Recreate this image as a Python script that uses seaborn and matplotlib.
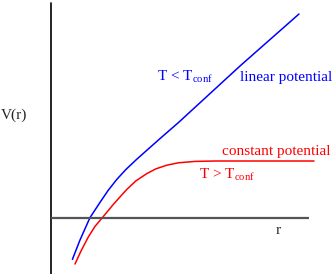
import matplotlib
matplotlib.use("Agg")
import numpy as np
import pandas as pd
import matplotlib.pyplot as plt
import seaborn as sns

# potentiel V(r) en dessous / au dessus de T_conf
r_linear = [1.07, 1.45, 1.95, 2.45, 2.85, 3.29, 3.75, 4.29, 5.45, 6.37, 9.45, 12.4]
v_linear = [-2.07, -1.1, 0.02, 0.78, 1.37, 1.93, 2.43, 2.94, 3.97, 4.77, 7.6, 10.2]

r_const = [1.2, 1.5, 1.87, 2.2, 2.57, 3.15, 3.79, 4.25, 4.79, 5.25, 5.79, 6.37, 7.2, 8.25, 13.15]
v_const = [-2.3, -1.65, -0.94, -0.42, 0.02, 0.72, 1.43, 1.86, 2.22, 2.46, 2.64, 2.76, 2.83, 2.85, 2.85]

r_axis_end = 12.9

df_lin = pd.DataFrame({'r': r_linear, 'V': v_linear})
df_const = pd.DataFrame({'r': r_const, 'V': v_const})

sns.set_style("white")
plt.rcParams['font.family'] = ['Liberation Serif', 'DejaVu Serif']
plt.rcParams['mathtext.fontset'] = 'custom'
plt.rcParams['mathtext.rm'] = 'Liberation Serif'

fig = plt.figure(figsize=(3.32, 2.74), dpi=100)
ax = fig.add_axes([0, 0, 1, 1])

sns.lineplot(data=df_lin, x='r', y='V', sort=False, color='#0000ff', lw=1.1, ax=ax)
sns.lineplot(data=df_const, x='r', y='V', sort=False, color='#ff0000', lw=1.1, ax=ax)

# axes dessinés à la main
ax.axvline(0, color='black', lw=1.2, ymax=0.99)
ax.hlines(0, 0, r_axis_end, color='#555555', lw=1.6)

ax.set_xlim(-2.55, 14.05)
ax.set_ylim(-2.8, 10.9)
for s in ax.spines.values():
    s.set_visible(False)
ax.set_xticks([])
ax.set_yticks([])
ax.set_xlabel('')
ax.set_ylabel('')

fs = 11
ax.text(-1.85, 5.15, 'V(r)', fontsize=fs, ha='center', va='center')
ax.text(5.3, 7.05, r'T < T$_{\rm conf}$', fontsize=fs, color='#0000ff', ha='left', va='center')
ax.text(9.45, 7.0, 'linear potential', fontsize=fs, color='#0000ff', ha='left', va='center')
ax.text(8.55, 3.3, 'constant potential', fontsize=fs, color='#ff0000', ha='left', va='center')
ax.text(7.4, 2.15, r'T > T$_{\rm conf}$', fontsize=fs, color='#ff0000', ha='left', va='center')
ax.text(11.35, -0.6, 'r', fontsize=fs, ha='center', va='center')

plt.savefig('out.png', dpi=100)
